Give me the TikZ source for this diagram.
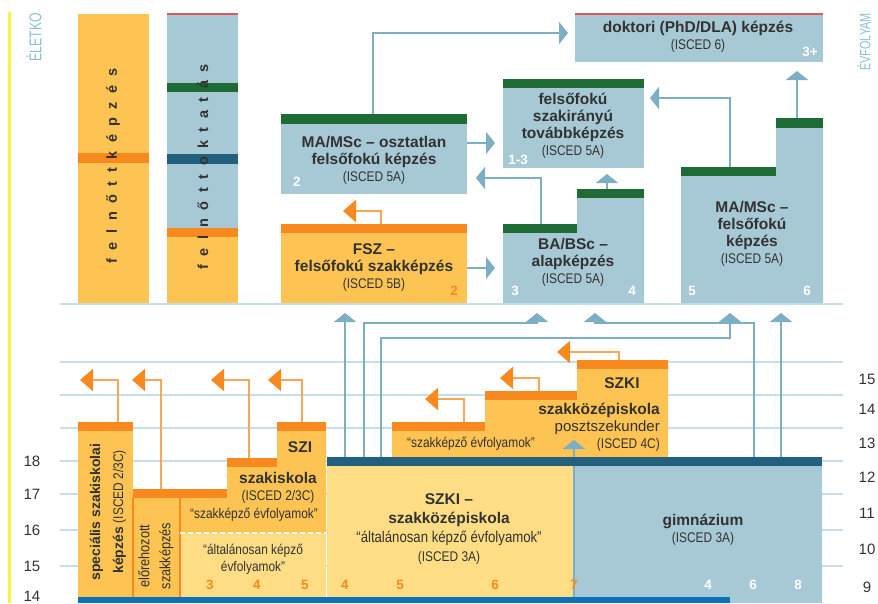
\documentclass[tikz,border=0pt]{standalone}
\usepackage{fontspec}
\setmainfont{Liberation Sans}
\newfontfamily\narrowfont[FakeStretch=0.85]{Liberation Sans}
\newfontfamily\tallfont[FakeStretch=0.72]{Liberation Sans}
\usepackage{tikz}
\usetikzlibrary{arrows.meta}

\definecolor{SchoolYellow}{RGB}{253,196,83}
\definecolor{PaleYellow}{RGB}{254,221,132}
\definecolor{BandOrange}{RGB}{247,137,31}
\definecolor{SchoolBlue}{RGB}{167,201,213}
\definecolor{BandGreen}{RGB}{30,107,53}
\definecolor{BandTeal}{RGB}{34,96,126}
\definecolor{BarBlue}{RGB}{11,114,185}
\definecolor{ArrowBlue}{RGB}{125,175,196}
\definecolor{GridBlue}{RGB}{198,222,232}
\definecolor{TextGrey}{RGB}{50,50,50}
\definecolor{LineRed}{RGB}{222,90,90}
\definecolor{EdgeYellow}{RGB}{255,242,58}
\definecolor{LabelBlue}{RGB}{141,191,211}

\tikzstyle{uparrow} = [ArrowBlue, line width=2pt, -{Triangle[width=22pt,length=9pt]}]
\tikzstyle{backarrow} = [BandOrange!75, line width=2pt, -{Triangle[width=22pt,length=13pt,color=BandOrange]}]
\tikzstyle{gridline} = [GridBlue, line width=1.4pt]
\tikzstyle{boxtitle} = [text=TextGrey, font=\fontsize{15.5}{17}\selectfont\bfseries, align=center, inner sep=0pt]
\tikzstyle{smalltext} = [text=TextGrey, font=\narrowfont\fontsize{14}{17}\selectfont, align=center, inner sep=0pt]
\tikzstyle{yearnum} = [font=\fontsize{13.5}{15}\selectfont\bfseries, inner sep=0pt]
\tikzstyle{agenum} = [text=TextGrey, font=\fontsize{15}{17}\selectfont, inner sep=0pt]
\tikzstyle{spaced} = [text=TextGrey, rotate=90, inner sep=0pt, font=\fontsize{14.5}{16}\selectfont\bfseries]
\tikzstyle{sidelabel} = [text=LabelBlue, rotate=90, anchor=east, inner sep=0pt, font=\tallfont\fontsize{17}{18}\selectfont]

\newcommand{\iscedtag}[1]{{\narrowfont\mdseries\fontsize{14}{17}\selectfont(ISCED #1)}}
\newcommand{\widegaps}{\spaceskip=8.5pt plus 0pt minus 0pt\relax}

\begin{document}
\begin{tikzpicture}[x=1pt, y=-1pt]
    \useasboundingbox (0,0) rectangle (878,603);

    % grid of ages and grades
    \draw[gridline] (60,304) -- (843,304);
    \foreach \gy in {362,395,428,461,494,530,566}
        \draw[gridline] (60,\gy) -- (843,\gy);
    \fill[EdgeYellow] (8,12) rectangle (11,603);

    % adult education columns
    \fill[SchoolYellow] (78,14) rectangle (149,303);
    \fill[BandOrange] (78,153) rectangle (149,163);
    \fill[SchoolBlue] (167,14) rectangle (238,228);
    \fill[SchoolYellow] (167,228) rectangle (238,303);
    \fill[BandGreen] (167,83) rectangle (238,92);
    \fill[BandTeal] (167,154) rectangle (238,164);
    \fill[BandOrange] (167,228) rectangle (238,237);
    \draw[LineRed, line width=1.2pt] (167,14) -- (238,14);

    % higher education
    \fill[SchoolBlue] (575,14) rectangle (823,62);
    \draw[LineRed, line width=1.2pt] (575,14) -- (823,14);
    \fill[SchoolBlue] (281,114) rectangle (467,194);
    \fill[BandGreen] (281,114) rectangle (467,124);
    \fill[SchoolYellow] (281,224) rectangle (467,303);
    \fill[BandOrange] (281,224) rectangle (467,233);
    \fill[SchoolBlue] (503,79) rectangle (644,168);
    \fill[BandGreen] (503,79) rectangle (644,88);
    \fill[SchoolBlue] (503,303) -- (503,224) -- (577,224) -- (577,189) -- (644,189) -- (644,303) -- cycle;
    \fill[BandGreen] (503,224) rectangle (577,233);
    \fill[BandGreen] (577,189) rectangle (644,198);
    \fill[SchoolBlue] (681,303) -- (681,167) -- (776,167) -- (776,118) -- (823,118) -- (823,303) -- cycle;
    \fill[BandGreen] (681,167) rectangle (776,176);
    \fill[BandGreen] (776,118) rectangle (823,128);

    % vocational schools
    \fill[SchoolYellow] (78,422) rectangle (133,597);
    \fill[BandOrange] (78,422) rectangle (133,431);
    \fill[SchoolYellow] (133,597) -- (133,489) -- (227,489) -- (227,458) -- (277,458) -- (277,422)
        -- (326,422) -- (326,533) -- (180,533) -- (180,597) -- cycle;
    \fill[PaleYellow] (180,533) rectangle (326,597);
    \fill[BandOrange] (133,489) rectangle (227,498);
    \fill[BandOrange] (227,458) rectangle (277,467);
    \fill[BandOrange] (277,422) rectangle (326,431);
    \draw[BandOrange, line width=1.2pt] (133,498) -- (133,597);
    \draw[BandOrange, line width=1.2pt] (180,498) -- (180,597);
    \draw[white, line width=1.5pt, dash pattern=on 5pt off 3pt] (180,533) -- (326,533);

    % secondary schools
    \fill[PaleYellow] (327,466) rectangle (575,597);
    \fill[SchoolBlue] (575,466) rectangle (822,603);
    \fill[SchoolYellow] (392,457) -- (392,422) -- (485,422) -- (485,391) -- (577,391) -- (577,360)
        -- (668,360) -- (668,457) -- cycle;
    \fill[BandOrange] (392,422) rectangle (485,431);
    \fill[BandOrange] (485,391) rectangle (577,400);
    \fill[BandOrange] (577,360) rectangle (668,369);
    \fill[BarBlue] (78,597) rectangle (730,603);

    % connector ends
    \coordinate (maosz-up) at (373,114);
    \coordinate (doktori-in) at (568,33);
    \coordinate (maosz-out) at (467,143);
    \coordinate (szakir-in) at (495,143);
    \coordinate (fsz-out) at (467,268);
    \coordinate (ba-in) at (495,268);
    \coordinate (fsz-up) at (381,224);
    \coordinate (fsz-back) at (343,211);
    \coordinate (ba-up1) at (541,224);
    \coordinate (maosz-in) at (476,178);
    \coordinate (ba-up2) at (607,189);
    \coordinate (szakir-below) at (607,174);
    \coordinate (ma-up1) at (730,167);
    \coordinate (szakir-right) at (650,98);
    \coordinate (ma-up2) at (797,118);
    \coordinate (doktori-below) at (797,71);

    \coordinate (szki-up1) at (345,457);
    \coordinate (szki-up2) at (364,457);
    \coordinate (szki-up3) at (381,457);
    \coordinate (gimn-up1) at (754,457);
    \coordinate (gimn-up2) at (781,457);
    \coordinate (szki-gimn) at (574,597);
    \coordinate (fsz-below) at (345,313);
    \coordinate (ba-below1) at (537,313);
    \coordinate (ba-below2) at (595,313);
    \coordinate (ma-below1) at (730,313);
    \coordinate (ma-below2) at (781,313);
    \coordinate (poszt-in) at (574,440);

    \coordinate (spec-up) at (118,422);
    \coordinate (spec-back) at (80,380);
    \coordinate (eloreh-up) at (161,489);
    \coordinate (eloreh-back) at (132,380);
    \coordinate (szakisk-up) at (249,458);
    \coordinate (szakisk-back) at (211,380);
    \coordinate (szi-up) at (302,422);
    \coordinate (szi-back) at (268,380);
    \coordinate (step1-up) at (464,422);
    \coordinate (step1-back) at (425,399);
    \coordinate (step2-up) at (539,391);
    \coordinate (step2-back) at (500,378);
    \coordinate (poszt-up) at (619,360);
    \coordinate (poszt-back) at (557,352);

    % pathways
    \draw[uparrow] (maosz-up) |- (doktori-in);
    \draw[uparrow] (maosz-out) -- (szakir-in);
    \draw[uparrow] (fsz-out) -- (ba-in);
    \draw[uparrow] (ba-up1) |- (maosz-in);
    \draw[uparrow] (ba-up2) -- (szakir-below);
    \draw[uparrow] (ma-up1) |- (szakir-right);
    \draw[uparrow] (ma-up2) -- (doktori-below);
    \draw[uparrow] (szki-up1) -- (fsz-below);
    \draw[uparrow] (szki-up2) -- ++(0,-134) -| (ba-below1);
    \draw[uparrow] (szki-up3) -- ++(0,-119) -| (ma-below1);
    \draw[uparrow] (gimn-up1) -- ++(0,-134) -| (ba-below2);
    \draw[uparrow] (gimn-up2) -- (ma-below2);
    \draw[uparrow] (szki-gimn) -- (poszt-in);
    \fill[BandTeal] (327,457) rectangle (822,466);

    \draw[backarrow] (fsz-up) |- (fsz-back);
    \draw[backarrow] (spec-up) |- (spec-back);
    \draw[backarrow] (eloreh-up) |- (eloreh-back);
    \draw[backarrow] (szakisk-up) |- (szakisk-back);
    \draw[backarrow] (szi-up) |- (szi-back);
    \draw[backarrow] (step1-up) |- (step1-back);
    \draw[backarrow] (step2-up) |- (step2-back);
    \draw[backarrow] (poszt-up) |- (poszt-back);

    % labels
    \node[sidelabel] (eletkor) at (34,13) {ÉLETKO};
    \node[sidelabel, font=\tallfont\fontsize{15}{16}\selectfont] (evfolyam) at (864,13) {ÉVFOLYAM};
    \node[spaced] (felnottkepzes) at (113,166) {\widegaps f e l n ő t t k é p z é s};
    \node[spaced] (felnottoktatas) at (203,167) {\widegaps f e l n ő t t o k t a t á s};

    \node[boxtitle] (doktori) at (698,37) {doktori (PhD/DLA) képzés\\\iscedtag{6}};
    \node[boxtitle] (maosztatlan) at (374,160) {MA/MSc – osztatlan\\felsőfokú képzés\\\iscedtag{5A}};
    \node[boxtitle] (szakiranyu) at (573,126) {felsőfokú\\szakirányú\\továbbképzés\\\iscedtag{5A}};
    \node[boxtitle] (fsz) at (374,268) {FSZ –\\felsőfokú szakképzés\\\iscedtag{5B}};
    \node[boxtitle] (babsc) at (573,262) {BA/BSc –\\alapképzés\\\iscedtag{5A}};
    \node[boxtitle] (mamsc) at (752,234) {MA/MSc –\\felsőfokú\\képzés\\\iscedtag{5A}};

    \node[text=TextGrey, rotate=90, align=center, inner sep=0pt, font=\fontsize{14}{23}\selectfont\bfseries]
        (specialis) at (108,512) {speciális szakiskolai\\képzés {\narrowfont\mdseries(ISCED 2/3C)}};
    \node[smalltext, rotate=90, font=\narrowfont\fontsize{15}{21}\selectfont] (elorehozott) at (156,556) {előrehozott\\szakképzés};
    \node[boxtitle] (szi) at (300,447) {SZI};
    \node[boxtitle] (szakiskola) at (278,488) {szakiskola\\\iscedtag{2/3C}};
    \node[smalltext] (szakiskola-szk) at (254,515) {“szakképző évfolyamok”};
    \node[smalltext] (szakiskola-alt) at (253,559) {“általánosan képző\\évfolyamok”};
    \node[smalltext] (szki-szk) at (471,444) {“szakképző évfolyamok”};
    \node[boxtitle] (szkiposzt) at (622,383) {SZKI};
    \node[boxtitle, align=right, anchor=east] (posztszek) at (660,427)
        {szakközépiskola\\{\mdseries\fontsize{15}{17}\selectfont posztszekunder}\\\iscedtag{4C}};
    \node[boxtitle, font=\fontsize{15.5}{19}\selectfont\bfseries] (szki) at (449,529)
        {SZKI –\\szakközépiskola\\{\narrowfont\mdseries “általánosan képző évfolyamok”}\\\iscedtag{3A}};
    \node[boxtitle] (gimnazium) at (703,530) {gimnázium\\\iscedtag{3A}};

    % years of study
    \node[yearnum, white] (y-maosz) at (297,182) {2};
    \node[yearnum, white] (y-szakir) at (518,160) {1-3};
    \node[yearnum, BandOrange] (y-fsz) at (454,291) {2};
    \node[yearnum, white] (y-ba3) at (515,291) {3};
    \node[yearnum, white] (y-ba4) at (632,291) {4};
    \node[yearnum, white] (y-ma5) at (692,291) {5};
    \node[yearnum, white] (y-ma6) at (807,291) {6};
    \node[yearnum, white] (y-dok) at (810,52) {3+};
    \foreach \num/\nx in {3/210,4/257,5/305}
        \node[yearnum, BandOrange] (y-szi\num) at (\nx,585) {\num};
    \foreach \num/\nx in {4/345,5/400,6/495,7/574}
        \node[yearnum, BandOrange] (y-szki\num) at (\nx,585) {\num};
    \foreach \num/\nx in {4/708,6/753,8/798}
        \node[yearnum, white] (y-gimn\num) at (\nx,585) {\num};

    % ages and grades
    \foreach \age/\gy in {18/461,17/494,16/530,15/566,14/596}
        \node[agenum] (age\age) at (32,\gy) {\age};
    \foreach \grade/\gy in {15/379,14/409,13/443,12/477,11/513,10/549,9/587}
        \node[agenum] (grade\grade) at (867,\gy) {\grade};
\end{tikzpicture}
\end{document}
